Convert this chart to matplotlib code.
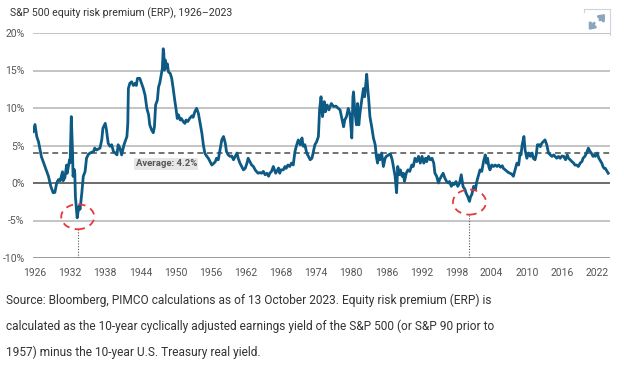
import matplotlib
matplotlib.use('Agg')
import matplotlib.pyplot as plt
from matplotlib.patches import Ellipse
import numpy as np

# === DATA ===

TITLE = 'S&P 500 equity risk premium (ERP), 1926\u20132023'

YEARS = [1925.7, 1926.0, 1926.3, 1926.6, 1927.1, 1927.7, 1928.3, 1928.7, 1929.1, 1929.4,
         1929.7, 1930.0, 1930.3, 1930.7, 1930.8, 1931.1, 1931.4, 1931.5, 1931.9, 1932.0,
         1932.2, 1932.4, 1932.5, 1932.7, 1932.8, 1932.9, 1933.2, 1933.5, 1933.7, 1934.0,
         1934.25, 1934.55, 1934.8, 1935.1, 1935.4, 1936.0, 1936.2, 1936.5, 1937.1, 1937.4,
         1937.6, 1938.0, 1938.2, 1938.5, 1938.8, 1939.1, 1939.4, 1939.7, 1940.0, 1940.2,
         1940.5, 1940.8, 1941.2, 1941.7, 1941.85, 1941.95, 1942.2, 1942.5, 1942.8, 1943.1,
         1943.3, 1943.5, 1943.9, 1944.1, 1944.5, 1944.8, 1945.1, 1945.4, 1945.6, 1945.9,
         1946.2, 1946.4, 1946.6, 1946.9, 1947.1, 1947.3, 1947.5, 1947.75, 1947.9, 1948.0,
         1948.1, 1948.25, 1948.4, 1948.6, 1948.8, 1949.1, 1949.35, 1949.6, 1949.9, 1950.1,
         1950.3, 1950.5, 1950.8, 1951.0, 1951.3, 1951.6, 1951.8, 1952.1, 1952.4, 1952.8,
         1953.0, 1953.3, 1953.6, 1953.9, 1954.2, 1954.5, 1954.75, 1955.0, 1955.3, 1955.6,
         1955.9, 1956.2, 1956.5, 1956.8, 1957.0, 1957.3, 1957.6, 1957.9, 1958.2, 1958.5,
         1958.7, 1959.0, 1959.3, 1959.6, 1959.9, 1960.2, 1960.5, 1960.7, 1961.0, 1961.3,
         1961.6, 1961.9, 1962.2, 1962.4, 1962.7, 1963.0, 1963.3, 1963.6, 1963.8, 1964.1,
         1964.4, 1964.7, 1965.0, 1965.3, 1965.6, 1965.9, 1966.1, 1966.4, 1966.7, 1966.9,
         1967.1, 1967.6, 1967.8, 1968.0, 1968.4, 1968.7, 1968.9, 1969.2, 1969.5, 1969.8,
         1970.1, 1970.4, 1970.7, 1970.97, 1971.3, 1971.6, 1971.8, 1972.1, 1972.4, 1972.7,
         1973.0, 1973.3, 1973.5, 1973.8, 1974.1, 1974.4, 1974.6, 1974.85, 1975.1, 1975.4,
         1975.6, 1975.9, 1976.2, 1976.6, 1977.0, 1977.4, 1977.8, 1978.1, 1978.4, 1978.7,
         1978.9, 1979.2, 1979.5, 1979.8, 1980.1, 1980.3, 1980.4, 1980.6, 1980.9, 1981.1,
         1981.3, 1981.5, 1981.8, 1982.1, 1982.3, 1982.5, 1982.65, 1982.8, 1983.0, 1983.2,
         1983.5, 1983.8, 1984.1, 1984.3, 1984.5, 1984.7, 1984.9, 1985.2, 1985.5, 1985.8,
         1986.0, 1986.4, 1986.7, 1987.0, 1987.3, 1987.5, 1987.75, 1987.95, 1988.2, 1988.4,
         1988.7, 1988.9, 1989.1, 1989.4, 1989.7, 1990.0, 1990.35, 1990.6, 1990.9, 1991.2,
         1991.5, 1991.8, 1992.1, 1992.4, 1992.7, 1992.9, 1993.2, 1993.5, 1993.8, 1994.1,
         1994.3, 1994.6, 1994.9, 1995.1, 1995.4, 1995.7, 1996.0, 1996.3, 1996.6, 1996.8,
         1997.1, 1997.4, 1997.6, 1997.9, 1998.2, 1998.5, 1998.8, 1999.1, 1999.45, 1999.6,
         1999.9, 2000.2, 2000.4, 2000.6, 2000.9, 2001.2, 2001.45, 2001.7, 2002.0, 2002.3,
         2002.6, 2002.9, 2003.1, 2003.3, 2003.5, 2003.7, 2004.0, 2004.3, 2004.6, 2004.9,
         2005.2, 2005.5, 2005.8, 2006.0, 2006.3, 2006.6, 2006.85, 2007.4, 2007.7, 2008.0,
         2008.3, 2008.6, 2008.85, 2009.0, 2009.2, 2009.5, 2009.7, 2010.0, 2010.3, 2010.6,
         2010.9, 2011.1, 2011.4, 2011.6, 2011.8, 2012.1, 2012.3, 2012.55, 2012.8, 2013.1,
         2013.4, 2013.7, 2014.0, 2014.3, 2014.6, 2014.8, 2015.1, 2015.4, 2015.7, 2016.0,
         2016.3, 2016.6, 2016.9, 2017.1, 2017.4, 2017.7, 2018.0, 2018.2, 2018.5, 2018.8,
         2019.1, 2019.4, 2019.6, 2019.9, 2020.2, 2020.5, 2020.8, 2021.0, 2021.3, 2021.5,
         2021.7, 2022.0, 2022.3, 2022.8, 2023.0, 2023.2, 2023.4, 2023.9]

ERP = [6.85, 7.8, 6.2, 5.5, 3.5, 2.2, 0.9, -0.45, -1.3, -1.25,
       0.0, 0.45, 0.3, 1.5, 0.3, 0.7, 2.4, 1.3, 3.1, 2.7,
       8.85, 4.4, 0.9, 1.8, 1.3, -1.8, -4.65, -3.1, -3.5, -1.3,
       0.9, 1.5, 3.3, 3.8, 4.0, 4.2, 4.65, 4.4, 4.65, 5.75,
       7.3, 7.95, 7.1, 5.3, 4.9, 5.1, 4.2, 4.0, 3.75, 5.1,
       4.65, 3.75, 5.1, 6.2, 7.95, 12.6, 13.3, 13.5, 13.0, 13.3,
       13.0, 13.95, 13.95, 13.5, 12.6, 11.7, 9.95, 9.1, 7.75, 7.1,
       6.7, 7.5, 10.4, 11.05, 12.8, 13.3, 14.15, 15.3, 17.9, 17.3,
       15.05, 16.4, 15.3, 15.9, 14.8, 14.6, 13.95, 12.6, 10.85, 9.8,
       8.6, 9.1, 8.4, 8.6, 8.2, 7.95, 8.4, 8.2, 8.6, 8.95,
       8.75, 9.5, 9.95, 9.3, 7.95, 6.65, 5.1, 4.0, 3.6, 3.3,
       2.85, 2.4, 2.6, 2.85, 3.3, 3.1, 4.4, 5.75, 6.2, 5.3,
       4.2, 3.75, 3.55, 3.6, 3.1, 3.55, 4.0, 3.3, 2.65, 2.2,
       1.75, 1.95, 2.65, 3.3, 2.85, 2.4, 2.2, 1.75, 1.55, 1.3,
       1.4, 1.3, 1.55, 1.1, 1.3, 0.9, 1.3, 1.55, 2.2, 1.75,
       1.3, 2.0, 1.3, 1.75, 1.75, 2.2, 1.95, 2.4, 2.2, 2.65,
       2.4, 4.2, 5.1, 5.75, 5.1, 6.0, 4.9, 5.1, 4.0, 3.55,
       3.1, 3.3, 4.0, 5.1, 5.5, 6.2, 9.75, 11.5, 8.85, 10.85,
       9.5, 10.4, 9.75, 10.6, 10.2, 10.25, 9.95, 9.75, 8.6, 7.5,
       8.4, 8.85, 9.95, 9.1, 6.0, 11.5, 12.15, 9.75, 7.75, 10.6,
       7.75, 9.3, 11.05, 12.6, 11.5, 13.3, 14.5, 12.9, 11.05, 8.85,
       7.5, 6.0, 5.1, 3.55, 2.65, 3.75, 3.1, 4.0, 2.2, 3.3,
       3.55, 3.75, 3.9, 3.1, 1.75, 0.9, -1.3, 2.2, 1.1, 1.75,
       0.9, 1.3, 0.2, 1.3, 1.75, 1.55, 2.4, 2.2, 3.3, 2.85,
       3.55, 2.65, 3.55, 2.65, 3.3, 2.85, 3.55, 3.1, 3.3, 2.65,
       1.3, 0.9, 0.0, 0.45, 0.9, 1.3, 0.65, 0.2, 0.0, 0.2,
       -0.45, 0.0, -0.2, 0.2, -0.45, 0.0, 1.1, -0.45, -0.9, -1.3,
       -1.8, -2.45, -1.8, -1.55, -0.45, -0.9, 0.2, 0.9, 1.75, 1.55,
       2.85, 3.75, 2.65, 3.3, 2.2, 1.75, 2.4, 2.2, 2.4, 2.2,
       2.4, 2.1, 2.3, 1.95, 1.75, 1.55, 1.4, 1.2, 0.9, 1.75,
       2.65, 2.4, 4.0, 3.75, 5.1, 6.2, 4.4, 3.3, 4.0, 3.55,
       4.0, 3.3, 3.1, 3.75, 5.1, 5.1, 4.85, 5.3, 5.5, 5.75,
       5.1, 4.0, 3.75, 3.55, 3.75, 3.55, 3.3, 3.55, 3.3, 3.6,
       3.55, 3.1, 3.75, 3.3, 3.1, 2.85, 2.65, 2.4, 2.4, 2.2,
       2.65, 2.85, 3.3, 3.55, 4.0, 4.65, 4.2, 4.0, 3.55, 3.75,
       3.55, 4.0, 3.3, 2.65, 2.2, 1.95, 1.95, 1.3]

AVERAGE_LABEL = 'Average: 4.2%'
AVERAGE_LEVEL = 3.95   # where the dashed line sits in the picture

# troughs marked with red circles (year, value)
TROUGHS = [(1933.3, -4.5), (2000.2, -2.55)]

X_TICKS = list(range(1926, 2023, 6))
Y_TICKS = [-10, -5, 0, 5, 10, 15, 20]

CAPTION = ['Source: Bloomberg, PIMCO calculations as of 13 October 2023. Equity risk premium (ERP) is',
           'calculated as the 10-year cyclically adjusted earnings yield of the S&P 500 (or S&P 90 prior to',
           '1957) minus the 10-year U.S. Treasury real yield.']

# === STYLE ===

LINE_COLOR = '#0d5a84'
TEXT_COLOR = '#555555'
CHART_FONT = ['Liberation Sans Narrow', 'Roboto', 'DejaVu Sans']

plt.rcParams['font.family'] = CHART_FONT

fig = plt.figure(figsize=(6.24, 3.70), dpi=100)
W, H = 624.0, 370.0

# axes box in pixels: x 33..610, y 33..258
ax = fig.add_axes([33 / W, 1 - 258 / H, (610 - 33) / W, (258 - 33) / H])
ax.set_xlim(1925.66, 2024.2)
ax.set_ylim(-10, 20)

for v in Y_TICKS:
    if v == 0:
        ax.axhline(v, color='#444444', lw=1.1, zorder=1)
    elif v == -10:
        ax.axhline(v, color='#8a8a8a', lw=1.2, zorder=1)
    else:
        ax.axhline(v, color='#b4b4b4', lw=1.1, zorder=1)

for s in ax.spines.values():
    s.set_visible(False)

ax.plot(YEARS, ERP, color=LINE_COLOR, lw=2.0, solid_joinstyle='round', zorder=3)

ax.axhline(AVERAGE_LEVEL, color='#5a5a5a', lw=1.2, dashes=(3.5, 2.3), zorder=2)
ax.text(1948.4, 2.55, AVERAGE_LABEL, color='#555555', fontsize=6.8, fontweight='bold',
        ha='center', va='center', zorder=4,
        bbox=dict(boxstyle='square,pad=0.15', facecolor='#e6e6e6', edgecolor='none'))

# red dashed circles and dotted drop lines
px_x = (2024.2 - 1925.66) / 577.0   # years per pixel
px_y = 30.0 / 225.0                 # percent per pixel
for yr, val in TROUGHS:
    ax.add_patch(Ellipse((yr, val), 33 * px_x, 25 * px_y, fill=False, edgecolor='#e5383b',
                         lw=1.3, linestyle=(0, (4, 3)), zorder=4))
    ax.plot([yr, yr], [val - 12.5 * px_y, -10], color='#555555', lw=0.8,
            linestyle=(0, (1, 1.5)), zorder=2)

ax.set_xticks(X_TICKS)
ax.set_xticklabels([str(t) for t in X_TICKS])
ax.set_yticks(Y_TICKS)
ax.set_yticklabels(['%d%%' % t for t in Y_TICKS])
ax.tick_params(length=0, labelsize=7.5, labelcolor=TEXT_COLOR)
ax.tick_params(axis='x', pad=7)
ax.tick_params(axis='y', pad=6)

fig.text(10 / W, 1 - 13 / H, TITLE, fontsize=7.6, color='#333333', ha='left', va='center')

# expand icon in the top right corner
fig.add_artist(plt.Line2D([584 / W, 610 / W, 610 / W], [1 - 9 / H, 1 - 9 / H, 1 - 35 / H],
                          color='#c9d5e2', lw=0.8))
fig.add_artist(plt.Line2D([584 / W, 584 / W], [1 - 9 / H, 1 - 12 / H], color='#c9d5e2', lw=0.8))
fig.patches.append(matplotlib.patches.FancyArrowPatch(
    (598 / W, 1 - 22 / H), (607 / W, 1 - 12 / H), transform=fig.transFigure,
    arrowstyle='-|>,head_length=3,head_width=2.5', color='#8ca4be', lw=2))
fig.patches.append(matplotlib.patches.FancyArrowPatch(
    (596 / W, 1 - 21 / H), (587 / W, 1 - 32 / H), transform=fig.transFigure,
    arrowstyle='-|>,head_length=3,head_width=2.5', color='#8ca4be', lw=2))

for i, line in enumerate(CAPTION):
    fig.text(6 / W, 1 - (300 + 26 * i) / H, line, fontsize=8.6, color='#333333',
             ha='left', va='center', family=['Roboto', 'DejaVu Sans'])

fig.savefig('out.png', dpi=100)
